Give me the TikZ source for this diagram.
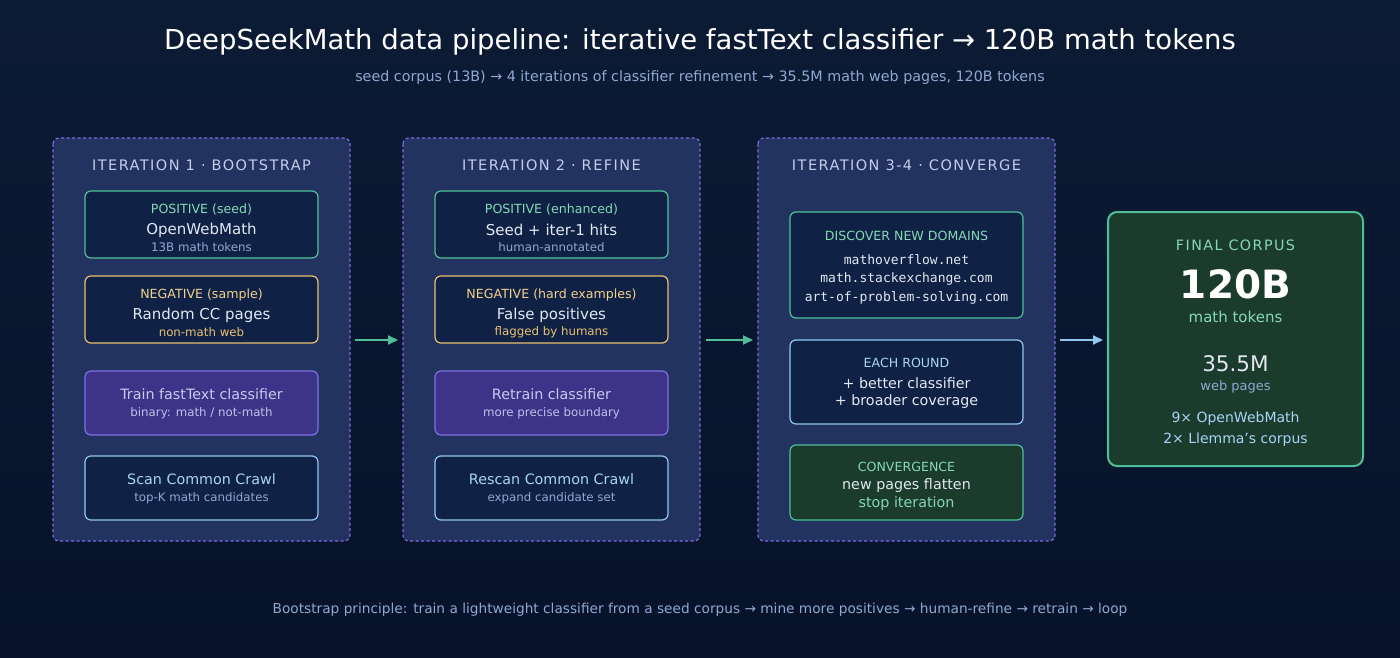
\documentclass[tikz,border=0pt]{standalone}
\usepackage{fontspec}
\setmainfont{DejaVu Sans}
\setmonofont{DejaVu Sans Mono}
\usetikzlibrary{arrows.meta}
\definecolor{bgtop}{HTML}{0C1B34}
\definecolor{bgbot}{HTML}{07122A}
\definecolor{panel}{HTML}{22335F}
\definecolor{pborder}{HTML}{7C6BDA}
\definecolor{ibox}{HTML}{0F2245}
\definecolor{grn}{HTML}{4FBF9A}
\definecolor{org}{HTML}{EBC070}
\definecolor{purf}{HTML}{3D3389}
\definecolor{purb}{HTML}{7F70E0}
\definecolor{blu}{HTML}{92C8F0}
\definecolor{fin}{HTML}{1B3B2C}
\definecolor{tgrn}{HTML}{86D8B6}
\definecolor{torg}{HTML}{F3D08C}
\definecolor{tmain}{HTML}{E2E8F2}
\definecolor{tsub}{HTML}{8FA8D2}
\definecolor{tpanel}{HTML}{C4CCEC}
\definecolor{tblu}{HTML}{A9D4F5}
\begin{document}
\begin{tikzpicture}[x=1pt,y=-1pt,
  panel/.style={draw=pborder,fill=panel,dashed,line width=1.2pt,rounded corners=6pt,dash pattern=on 3pt off 2.5pt},
  box/.style={draw=#1,fill=ibox,line width=1.2pt,rounded corners=6pt},
  ptitle/.style={font=\fontsize{14.5}{17}\selectfont\addfontfeature{LetterSpace=10},text=tpanel},
  hd/.style={font=\fontsize{12.6}{15}\selectfont},
  mn/.style={font=\fontsize{15}{18}\selectfont,text=tmain},
  mn2/.style={font=\fontsize{14.3}{17}\selectfont},
  sb/.style={font=\fontsize{11.8}{14}\selectfont,text=tsub},
  mono/.style={font=\ttfamily\fontsize{13}{15}\selectfont,text=tmain},
  arr/.style={-{Triangle[length=10pt,width=9pt]},line width=1.8pt}]
\shade[top color=bgtop,bottom color=bgbot] (0,0) rectangle (1400,658);
\useasboundingbox (0,0) rectangle (1400,658);
\node (title) at (700,42) {\fontsize{27.5}{32}\selectfont\color{white}DeepSeekMath data pipeline: iterative fastText classifier → 120B math tokens};
\node[sb,font=\fontsize{14.3}{17}\selectfont] (sub) at (700,78) {seed corpus (13B) → 4 iterations of classifier refinement → 35.5M math web pages, 120B tokens};
% panels
\draw[panel] (53,138) rectangle (350,541);
\draw[panel] (403,138) rectangle (700,541);
\draw[panel] (758,138) rectangle (1055,541);
\coordinate (p1) at (350,340); \coordinate (p2l) at (403,340); \coordinate (p2) at (700,340);
\coordinate (p3l) at (758,340); \coordinate (p3) at (1055,340);
\node[ptitle] (t1) at (201.5,165) {ITERATION 1 · BOOTSTRAP};
\node[ptitle] (t2) at (551.5,165) {ITERATION 2 · REFINE};
\node[ptitle] (t3) at (906.5,165) {ITERATION 3-4 · CONVERGE};
% column 1
\draw[box=grn] (85,191) rectangle (318,258);
\node[hd,text=tgrn] (a1) at (201.5,210) {POSITIVE (seed)};
\node[mn] (a2) at (201.5,230) {OpenWebMath};
\node[sb] (a3) at (201.5,247) {13B math tokens};
\draw[box=org] (85,276) rectangle (318,343);
\node[hd,text=torg] (b1) at (201.5,295) {NEGATIVE (sample)};
\node[mn] (b2) at (201.5,315) {Random CC pages};
\node[sb,text=org] (b3) at (201.5,332) {non-math web};
\draw[box=purb,fill=purf] (85,371) rectangle (318,435);
\node[mn2,text=tpanel] (c1) at (201.5,394) {Train fastText classifier};
\node[sb,text=tpanel!80!tsub] (c2) at (201.5,413) {binary: math / not-math};
\draw[box=blu] (85,456) rectangle (318,520);
\node[mn2,text=tblu] (d1) at (201.5,479) {Scan Common Crawl};
\node[sb] (d2) at (201.5,498) {top-K math candidates};
% column 2
\draw[box=grn] (435,191) rectangle (668,258);
\node[hd,text=tgrn] (e1) at (551.5,210) {POSITIVE (enhanced)};
\node[mn] (e2) at (551.5,230) {Seed + iter-1 hits};
\node[sb] (e3) at (551.5,247) {human-annotated};
\draw[box=org] (435,276) rectangle (668,343);
\node[hd,text=torg] (f1) at (551.5,295) {NEGATIVE (hard examples)};
\node[mn] (f2) at (551.5,315) {False positives};
\node[sb,text=org] (f3) at (551.5,332) {flagged by humans};
\draw[box=purb,fill=purf] (435,371) rectangle (668,435);
\node[mn2,text=tpanel] (g1) at (551.5,394) {Retrain classifier};
\node[sb,text=tpanel!80!tsub] (g2) at (551.5,413) {more precise boundary};
\draw[box=blu] (435,456) rectangle (668,520);
\node[mn2,text=tblu] (h1) at (551.5,479) {Rescan Common Crawl};
\node[sb] (h2) at (551.5,498) {expand candidate set};
% column 3
\draw[box=grn] (790,212) rectangle (1023,318);
\node[hd,text=tgrn] (i1) at (906.5,236) {DISCOVER NEW DOMAINS};
\node[mono] (i2) at (906.5,260) {mathoverflow.net};
\node[mono] (i3) at (906.5,279) {math.stackexchange.com};
\node[mono] (i4) at (906.5,298) {art-of-problem-solving.com};
\draw[box=blu] (790,340) rectangle (1023,424);
\node[hd,text=tblu] (j1) at (906.5,363) {EACH ROUND};
\node[mn2,text=tmain] (j2) at (906.5,383) {+ better classifier};
\node[mn2,text=tmain] (j3) at (906.5,402) {+ broader coverage};
\draw[box=grn,fill=fin] (790,445) rectangle (1023,520);
\node[hd,text=tgrn] (k1) at (906.5,467) {CONVERGENCE};
\node[mn2,text=tmain] (k2) at (906.5,486) {new pages flatten};
\node[mn2,text=tgrn] (k3) at (906.5,504) {stop iteration};
% final
\draw[draw=grn,fill=fin,line width=2pt,rounded corners=9pt] (1108,212) rectangle (1363,466);
\coordinate (fl) at (1108,340);
\node[font=\fontsize{14.3}{17}\selectfont\addfontfeature{LetterSpace=10},text=tgrn] (l1) at (1235.5,245) {FINAL CORPUS};
\node[font=\bfseries\fontsize{39}{44}\selectfont,text=white] (l2) at (1235.5,284) {120B};
\node[font=\fontsize{15}{18}\selectfont,text=tgrn] (l3) at (1235.5,317) {math tokens};
\node[font=\fontsize{21.5}{24}\selectfont,text=tmain] (l4) at (1235.5,364) {35.5M};
\node[sb,font=\fontsize{13}{15}\selectfont] (l5) at (1235.5,387) {web pages};
\node[font=\fontsize{14}{16}\selectfont,text=tblu] (l6) at (1235.5,419) {9× OpenWebMath};
\node[font=\fontsize{14}{16}\selectfont,text=tblu] (l7) at (1235.5,440) {2× Llemma's corpus};
% arrows
\draw[arr,draw=grn] ([xshift=5pt]p1) -- ([xshift=-5pt]p2l);
\draw[arr,draw=grn] ([xshift=6pt]p2) -- ([xshift=-5pt]p3l);
\draw[arr,draw=blu] ([xshift=5pt]p3) -- ([xshift=-5pt]fl);
\node[sb,font=\fontsize{13.7}{16}\selectfont] (foot) at (700,610) {Bootstrap principle: train a lightweight classifier from a seed corpus → mine more positives → human-refine → retrain → loop};
\end{tikzpicture}
\end{document}
